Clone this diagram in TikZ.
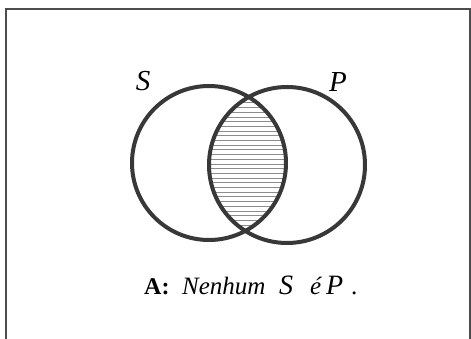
\documentclass[tikz,border=0pt]{standalone}
\usepackage{fontspec}
\setmainfont{Liberation Serif}
\begin{document}
\begin{tikzpicture}[x=1pt,y=-1pt,
  ring/.style={draw=black!78,line width=4pt},
  hatch/.style={draw=black!45,line width=0.7pt},
  frame/.style={draw=black!70,line width=2pt},
  lbl/.style={inner sep=0pt,font=\fontsize{29}{29}\selectfont\itshape},
  captxt/.style={inner sep=0pt,anchor=base west,font=\fontsize{25}{25}\selectfont\itshape},
  capbig/.style={inner sep=0pt,anchor=base west,font=\fontsize{28}{28}\selectfont\itshape}]
\useasboundingbox (0,0) rectangle (471,339);
\clip (0,0) rectangle (471,339);
\fill[white] (0,0) rectangle (471,339);
\draw[frame] (6,350) -- (6,9.5) -- (469.5,9.5) -- (469.5,350);
\coordinate (cs) at (209,163);
\coordinate (cp) at (287,165);
\begin{scope}
  \clip (cs) circle[radius=77];
  \clip (cp) circle[radius=78];
  \foreach \yy in {84,88.7,...,250} {
    \draw[hatch] (200,\yy) -- (300,\yy);
  }
\end{scope}
\draw[ring] (cs) circle[radius=77];
\draw[ring] (cp) circle[radius=78];
\node[lbl,anchor=base] (s) at (143,91) {S};
\node[lbl,anchor=base] (p) at (338,92) {P};
\node[captxt,font=\fontsize{24}{24}\selectfont\bfseries] (ca) at (144,294) {A:};
\node[captxt] (cn) at (182,294) {Nenhum};
\node[capbig] (cs2) at (279,294) {S};
\node[captxt] (ce) at (310,294) {é};
\node[capbig] (cp2) at (326,294) {P};
\node[captxt,font=\fontsize{25}{25}\selectfont] (cd) at (351,294) {.};
\end{tikzpicture}
\end{document}
